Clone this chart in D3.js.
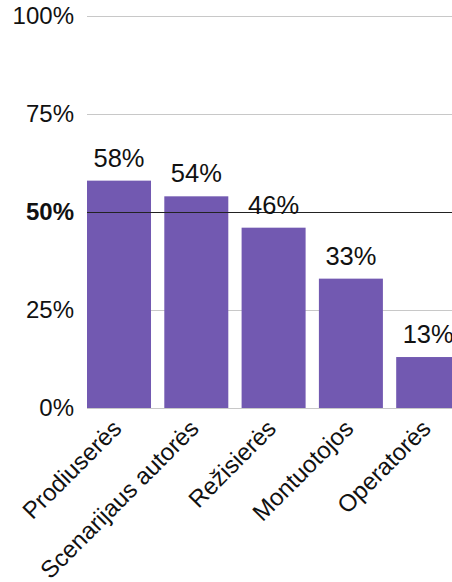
<!DOCTYPE html>
<html>
<head>
<meta charset="utf-8">
<script src="https://cdn.jsdelivr.net/npm/d3@7"></script>
<style>
  html, body { margin: 0; padding: 0; background: #fff; }
  svg { display: block; font-family: "Liberation Sans", Arial, sans-serif; }
</style>
</head>
<body>
<svg id="chart" width="452" height="582"></svg>
<script>
// Share of women in each film profession
const categories = ["Prodiuserės", "Scenarijaus autorės", "Režisierės", "Montuotojos", "Operatorės"];
const values = [58, 54, 46, 33, 13];
const yTicks = [0, 25, 50, 75, 100];

(function draw() {
  const svg = d3.select("#chart");
  const W = 452;
  const plotLeft = 87, plotTop = 16, plotBottom = 408;

  const x = d3.scaleBand()
    .domain(categories)
    .range([plotLeft, 460.2])
    .paddingInner(0.172)
    .paddingOuter(0);

  const y = d3.scaleLinear().domain([0, 100]).range([plotBottom, plotTop]);

  // horizontal gridlines (the 50% mark is drawn dark, further down)
  svg.append("g").selectAll("line")
    .data(yTicks.filter(t => t !== 50))
    .join("line")
    .attr("x1", plotLeft).attr("x2", W)
    .attr("y1", d => Math.round(y(d)) + 0.5).attr("y2", d => Math.round(y(d)) + 0.5)
    .attr("stroke", "#c8c8c8").attr("stroke-width", 1);

  // y tick labels
  svg.append("g").selectAll("text")
    .data(yTicks)
    .join("text")
    .attr("x", 74)
    .attr("y", d => y(d))
    .attr("dy", "0.35em")
    .attr("text-anchor", "end")
    .attr("font-size", 24)
    .attr("font-weight", d => d === 50 ? "bold" : "normal")
    .attr("fill", "#111")
    .text(d => d + "%");

  // bars
  svg.append("g").selectAll("rect")
    .data(values)
    .join("rect")
    .attr("x", (d, i) => x(categories[i]))
    .attr("width", x.bandwidth())
    .attr("y", d => y(d))
    .attr("height", d => y(0) - y(d))
    .attr("fill", "#7259b1");

  // 50% reference line
  svg.append("line")
    .attr("x1", plotLeft).attr("x2", W)
    .attr("y1", Math.round(y(50)) + 0.5).attr("y2", Math.round(y(50)) + 0.5)
    .attr("stroke", "#222").attr("stroke-width", 1);

  // value labels above bars
  svg.append("g").selectAll("text")
    .data(values)
    .join("text")
    .attr("x", (d, i) => x(categories[i]) + x.bandwidth() / 2)
    .attr("y", d => y(d) - 14)
    .attr("text-anchor", "middle")
    .attr("font-size", 25.5)
    .attr("fill", "#111")
    .text(d => d + "%");

  // rotated category labels
  svg.append("g").selectAll("text")
    .data(categories)
    .join("text")
    .attr("transform", d => `translate(${x(d) + x.bandwidth() / 2 + 4},${plotBottom + 22}) rotate(-45)`)
    .attr("text-anchor", "end")
    .attr("font-size", 24)
    .attr("fill", "#111")
    .text(d => d);
})();
</script>
</body>
</html>
